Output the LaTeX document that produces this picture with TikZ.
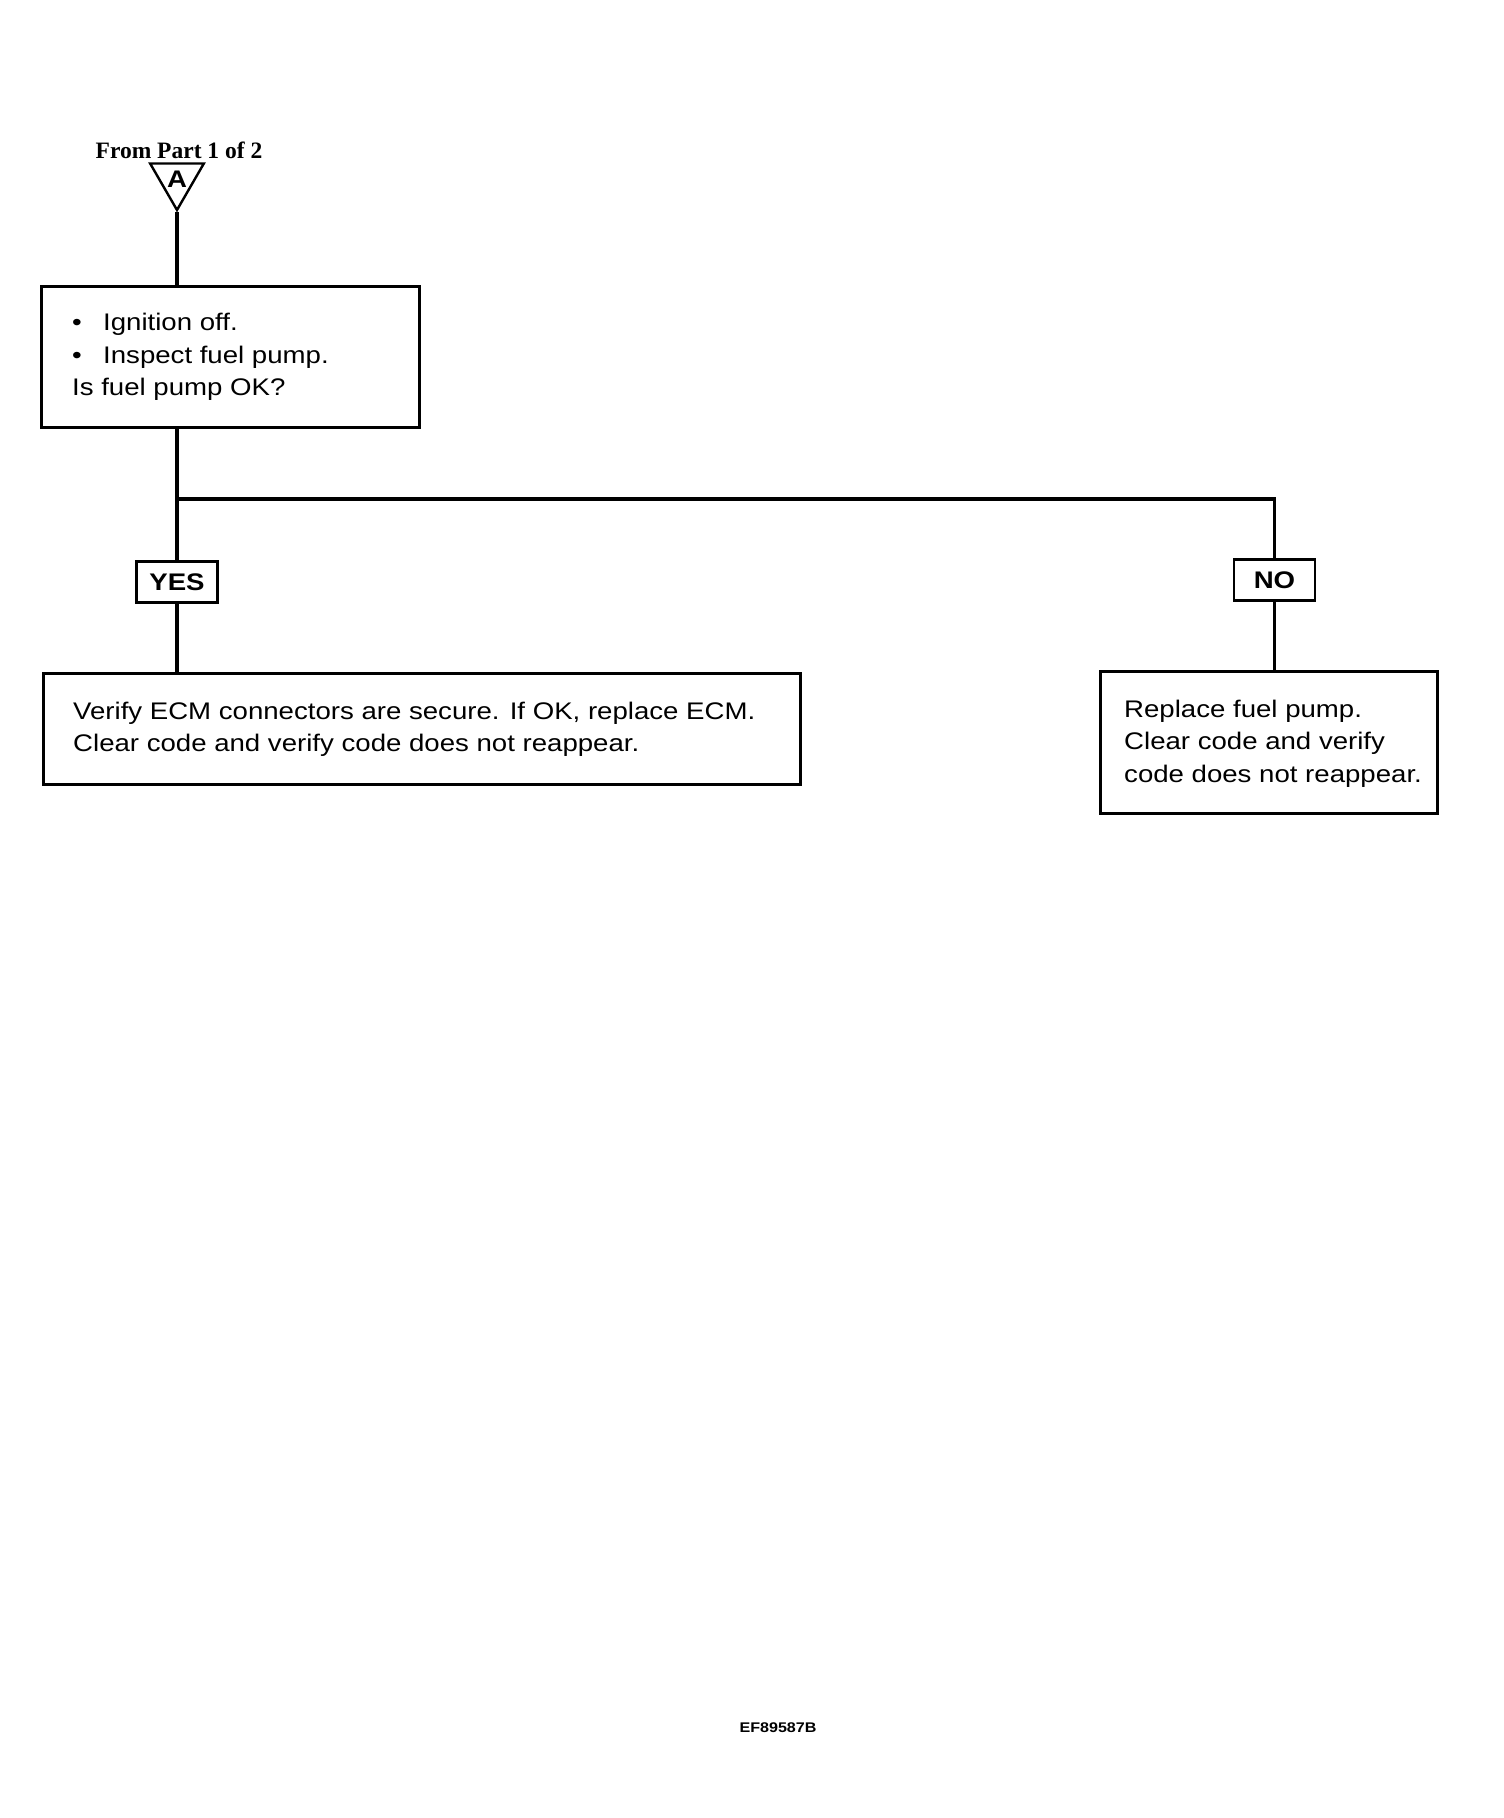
\documentclass[tikz,border=0pt]{standalone}
\usepackage{fontspec}
\setmainfont{Liberation Sans}[FakeStretch=1.15]
\newfontfamily\serifbold{Liberation Serif}
\usetikzlibrary{shapes.geometric}

\begin{document}
\begin{tikzpicture}[x=1pt,y=-1pt]
\tikzstyle{main}=[rectangle, draw=black, line width=3.3pt, inner sep=0pt]
\tikzstyle{answer}=[rectangle, draw=black, line width=2.4pt, minimum width=81pt, minimum height=41pt, inner sep=0pt, font=\fontsize{24}{28}\selectfont\bfseries]
\tikzstyle{connect}=[line width=3.3pt]
\tikzstyle{txt}=[align=left, inner sep=0pt, anchor=west, font=\fontsize{24}{32.5}\selectfont]
  \useasboundingbox (0,0) rectangle (1504,1818);
  \node[font=\serifbold\bfseries\fontsize{23.5}{28}\selectfont, anchor=base] (from) at (179,158) {From Part 1 of 2};
  \node[regular polygon, regular polygon sides=3, shape border rotate=180, minimum size=62pt, draw, line width=2.4pt, inner sep=0pt, font=\fontsize{24}{28}\selectfont\bfseries] (A) at (177,179) {A};
  \node[main, minimum width=378pt, minimum height=141pt, anchor=north west] (pump) at (40,285) {};
  \node[txt] (pumptext) at ([xshift=32pt]pump.west) {\makebox[31pt][l]{\textbullet}Ignition off.\\\makebox[31pt][l]{\textbullet}Inspect fuel pump.\\Is fuel pump OK?};
  \coordinate (fork) at (177,499);
  \node[answer] (yes) at (177,582) {YES};
  \node[answer] (no) at (1274.5,580) {NO};
  \node[main, minimum width=757pt, minimum height=111pt, anchor=north west] (ecm) at (42,672) {};
  \node[txt] (ecmtext) at ([xshift=31pt]ecm.west) {Verify ECM connectors are secure. If OK, replace ECM.\\Clear code and verify code does not reappear.};
  \node[main, minimum width=337pt, minimum height=142pt, anchor=north west] (fix) at (1099,670) {};
  \node[txt] (fixtext) at ([xshift=25pt,yshift=-1pt]fix.west) {Replace fuel pump.\\Clear code and verify\\code does not reappear.};
  \node[font=\fontsize{14}{16}\selectfont\bfseries] (code) at (778,1728) {EF89587B};
  \path (A.corner 1) edge [connect] (A.corner 1 |- pump.north)
        (pump.south -| fork) edge [connect] (yes)
        (yes) edge [connect] (yes |- ecm.north)
        (no) edge [connect] (no |- fix.north);
  \draw[connect] (fork) -| (no);
\end{tikzpicture}
\end{document}
